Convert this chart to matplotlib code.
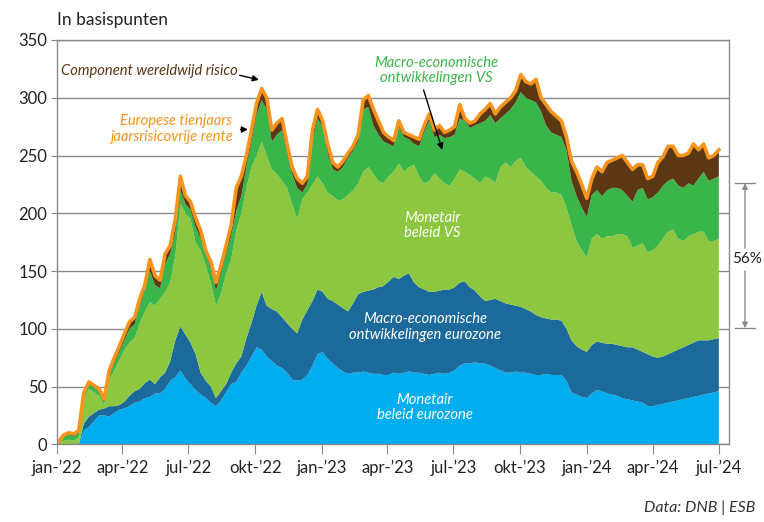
import numpy as np
import pandas as pd
import matplotlib
matplotlib.use('Agg')
import matplotlib.pyplot as plt

plt.rcParams['font.family'] = ['Lato', 'DejaVu Sans']

# weekly observations, jan 2022 - jul 2024
dates = pd.date_range('2022-01-03', periods=131, freq='7D')

# upper edge of every stacked layer, in basis points
top_mon_ez = [0, 0, 0, 0, 0, 12, 15, 20, 25, 25, 24, 27, 30, 31, 33, 36, 37, 40, 41, 44,
              44, 48, 55, 58, 64, 57, 52, 47, 43, 40, 36, 33, 38, 45, 52, 54, 62, 68, 76, 84,
              82, 76, 72, 68, 66, 62, 56, 55, 56, 60, 68, 78, 80, 74, 70, 66, 63, 61, 62, 62,
              63, 62, 61, 61, 60, 60, 62, 61, 62, 63, 62, 62, 61, 60, 61, 62, 61, 62, 64, 68,
              70, 70, 71, 70, 70, 68, 66, 64, 62, 62, 63, 62, 62, 61, 60, 60, 61, 60, 60, 60,
              55, 45, 43, 41, 40, 44, 47, 46, 44, 43, 42, 40, 39, 38, 37, 36, 33, 33, 34, 35,
              36, 37, 38, 39, 40, 41, 42, 43, 44, 45, 46]
top_macro_ez = [0, 0, 0, 0, 0, 18, 24, 27, 30, 31, 33, 33, 34, 37, 42, 46, 48, 53, 56, 52,
                58, 62, 72, 90, 102, 95, 88, 78, 62, 55, 50, 40, 46, 52, 62, 70, 76, 92, 105, 120,
                132, 120, 117, 115, 110, 105, 100, 96, 108, 116, 124, 134, 132, 126, 124, 121, 118, 115, 122, 130,
                132, 133, 134, 136, 137, 141, 145, 143, 146, 148, 140, 136, 134, 132, 132, 133, 134, 134, 136, 140,
                141, 136, 133, 128, 124, 125, 126, 124, 122, 121, 120, 119, 117, 115, 112, 110, 109, 108, 108, 107,
                100, 90, 85, 82, 80, 86, 89, 88, 87, 87, 86, 85, 84, 84, 82, 80, 78, 76, 75, 76,
                78, 80, 82, 84, 86, 88, 90, 90, 90, 91, 92]
top_mon_vs = [1, 3, 4, 3, 6, 40, 48, 45, 42, 34, 56, 64, 73, 82, 88, 92, 105, 115, 123, 120,
              126, 132, 140, 163, 208, 200, 195, 175, 168, 155, 140, 120, 130, 148, 160, 185, 200, 222, 240, 250,
              262, 250, 238, 234, 228, 222, 208, 195, 212, 218, 225, 232, 226, 218, 215, 211, 212, 216, 220, 226,
              236, 240, 234, 228, 226, 232, 236, 243, 236, 240, 242, 232, 226, 228, 235, 230, 226, 224, 230, 238,
              236, 233, 230, 226, 232, 230, 226, 240, 244, 240, 245, 248, 240, 236, 232, 228, 222, 218, 218, 216,
              205, 190, 176, 168, 162, 178, 182, 178, 180, 180, 182, 182, 180, 170, 172, 174, 166, 168, 172, 178,
              184, 186, 178, 176, 180, 182, 184, 184, 176, 176, 178]
top_macro_vs = [2, 6, 8, 7, 10, 43, 52, 49, 46, 37, 60, 70, 80, 90, 100, 104, 120, 133, 150, 138,
                135, 156, 165, 183, 220, 208, 203, 188, 178, 165, 152, 133, 148, 165, 180, 202, 215, 240, 262, 285,
                298, 290, 262, 268, 272, 252, 234, 222, 218, 225, 262, 282, 275, 252, 238, 236, 240, 248, 254, 262,
                290, 292, 276, 268, 262, 260, 258, 275, 266, 264, 260, 258, 270, 280, 266, 268, 265, 266, 268, 282,
                280, 274, 276, 278, 280, 285, 278, 282, 286, 290, 296, 305, 300, 298, 296, 288, 276, 270, 268, 266,
                255, 228, 215, 205, 197, 216, 220, 215, 220, 222, 222, 220, 215, 210, 220, 222, 212, 214, 218, 224,
                228, 230, 224, 222, 226, 224, 230, 236, 228, 230, 232]
rente_total = [2, 8, 10, 9, 12, 45, 54, 51, 48, 39, 64, 75, 85, 96, 106, 110, 126, 138, 160, 146,
               142, 165, 172, 195, 232, 215, 210, 196, 185, 168, 158, 140, 155, 172, 190, 222, 232, 250, 272, 295,
               308, 300, 272, 278, 282, 260, 240, 230, 226, 232, 272, 290, 280, 260, 244, 240, 245, 252, 258, 268,
               298, 302, 290, 280, 270, 266, 263, 280, 270, 268, 266, 264, 276, 286, 272, 276, 270, 272, 275, 294,
               282, 278, 280, 286, 290, 295, 286, 292, 296, 300, 306, 320, 314, 312, 316, 300, 294, 288, 284, 280,
               266, 245, 236, 225, 213, 230, 240, 236, 244, 246, 248, 250, 244, 238, 242, 242, 230, 232, 244, 249,
               258, 258, 250, 250, 252, 260, 255, 260, 248, 250, 255]

tick_dates = pd.date_range('2022-01-01', '2024-07-01', freq='3MS')
tick_labels = ['jan-\u201922', 'apr-\u201922', 'jul-\u201922', 'okt-\u201922',
               'jan-\u201923', 'apr-\u201923', 'jul-\u201923', 'okt-\u201923',
               'jan-\u201924', 'apr-\u201924', 'jul-\u201924']

colors = ['#00aeef', '#1c6a9b', '#8dc63f', '#39b54a', '#5b3714']
orange = '#f7941d'
grey = '#8a8a8a'
fs = 10.6

edges = np.vstack([np.zeros(len(dates)), top_mon_ez, top_macro_ez,
                   top_mon_vs, top_macro_vs, rente_total])
layers = np.diff(edges, axis=0)

fig = plt.figure(figsize=(7.64, 5.22), dpi=100)
ax = fig.add_axes([57 / 764, 1 - 444.3 / 522, 672 / 764, 404.3 / 522])

ax.stackplot(dates, layers, colors=colors, linewidth=0)
ax.plot(dates, rente_total, color=orange, lw=2.6, solid_joinstyle='round')

ax.set_ylim(0, 350)
ax.set_xlim(pd.Timestamp('2022-01-01'), pd.Timestamp('2024-07-15'))
ax.set_yticks(np.arange(0, 351, 50))
ax.set_xticks(tick_dates)
ax.set_xticklabels(tick_labels)
ax.grid(axis='y', color=grey, lw=1)
ax.set_axisbelow(True)
for s in ax.spines.values():
    s.set_color(grey)
    s.set_linewidth(1)
ax.tick_params(axis='y', length=4, color=grey, labelsize=12, pad=3, labelcolor='#222222')
ax.tick_params(axis='x', length=7, color=grey, labelsize=12, pad=4, labelcolor='#222222')

fig.text(57 / 764, 1 - 20 / 522, 'In basispunten', fontsize=12.5, va='center', color='#222222')

d = pd.Timestamp
ax.annotate('', xy=(d('2022-10-10'), 315), xytext=(d('2022-09-06'), 320),
            arrowprops=dict(arrowstyle='-|>', color='black', lw=1, mutation_scale=9))
ax.text(d('2022-05-08'), 323, 'Component wereldwijd risico', color='#5b3714',
        style='italic', fontsize=fs, ha='center', va='center')

ax.annotate('', xy=(d('2022-09-25'), 272.5), xytext=(d('2022-09-07'), 272.5),
            arrowprops=dict(arrowstyle='-|>', color='black', lw=1, mutation_scale=9))
ax.text(d('2022-08-31'), 273, 'Europese tienjaars\njaarsrisicovrije rente', color=orange,
        style='italic', fontsize=fs, ha='right', va='center', linespacing=1.15)

ax.annotate('', xy=(d('2023-06-17'), 252.7), xytext=(d('2023-05-20'), 309),
            arrowprops=dict(arrowstyle='-|>', color='black', lw=1, mutation_scale=9))
ax.text(d('2023-06-08'), 323.5, 'Macro-economische\nontwikkelingen VS', color='#39b54a',
        style='italic', fontsize=fs, ha='center', va='center', linespacing=1.15)

ax.text(d('2023-06-02'), 189.5, 'Monetair\nbeleid VS', color='white',
        style='italic', fontsize=fs, ha='center', va='center', linespacing=1.15)
ax.text(d('2023-05-23'), 101.5, 'Macro-economische\nontwikkelingen eurozone', color='white',
        style='italic', fontsize=fs, ha='center', va='center', linespacing=1.15)
ax.text(d('2023-05-23'), 32, 'Monetair\nbeleid eurozone', color='white',
        style='italic', fontsize=fs, ha='center', va='center', linespacing=1.15)

# 56% bracket right of the plot
tr = ax.get_yaxis_transform()
x0, x1, xm = (735 - 57) / 672, (755 - 57) / 672, (745 - 57) / 672
for yv in (226, 100.5):
    ax.plot([x0, x1], [yv, yv], color=grey, lw=1, transform=tr, clip_on=False)
ax.annotate('', xy=(xm, 226), xytext=(xm, 170), xycoords=tr, textcoords=tr,
            arrowprops=dict(arrowstyle='-|>', color=grey, lw=1, mutation_scale=8, shrinkA=0, shrinkB=0))
ax.annotate('', xy=(xm, 100.5), xytext=(xm, 150), xycoords=tr, textcoords=tr,
            arrowprops=dict(arrowstyle='-|>', color=grey, lw=1, mutation_scale=8, shrinkA=0, shrinkB=0))
ax.text(xm + 0.003, 160, '56%', transform=tr, fontsize=11, ha='center', va='center', color='#222222')

fig.text(755 / 764, 1 - 508 / 522, 'Data: DNB | ESB', fontsize=11.5, style='italic',
         ha='right', va='center', color='#333333')

fig.savefig('out.png', dpi=100)
